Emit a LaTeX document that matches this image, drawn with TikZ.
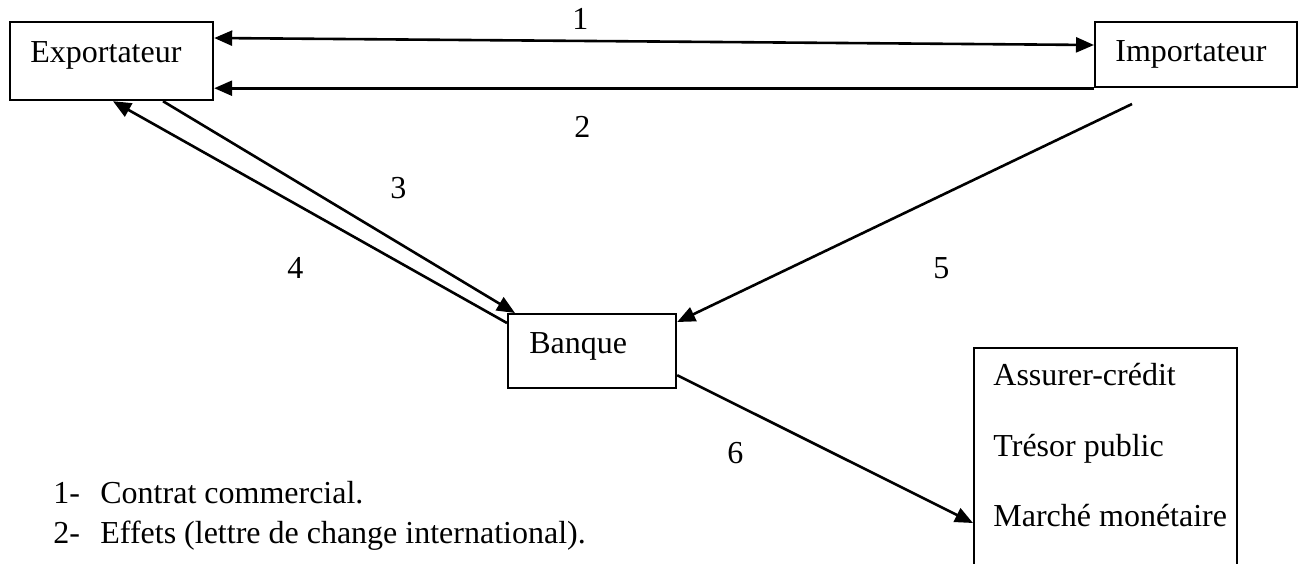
\documentclass[tikz,border=0pt]{standalone}
\usepackage{fontspec}
\setmainfont{Liberation Serif}
\usetikzlibrary{arrows.meta,calc}
\begin{document}
\begin{tikzpicture}[x=0.5pt,y=-0.5pt, font=\fontsize{16}{19}\selectfont,
  box/.style={draw, line width=1.1pt, inner sep=0pt, anchor=north west},
  lbl/.style={anchor=base west, inner sep=0pt},
  arr/.style={line width=1.3pt, -{Triangle[length=9pt,width=7.5pt]}},
  darr/.style={line width=1.3pt, {Triangle[length=9pt,width=7.5pt]}-{Triangle[length=9pt,width=7.5pt]}}]
\useasboundingbox (0,0) rectangle (1301,563);
\clip (0,0) rectangle (1301,563);
% boxes
\node[box, minimum width=101.5pt, minimum height=39pt] (exp) at (9,21) {};
\node[lbl] (expt) at (30,62) {Exportateur};
\node[box, minimum width=101pt, minimum height=32.5pt] (imp) at (1094,21) {};
\node[lbl] (impt) at (1115,61) {Importateur};
\node[box, minimum width=84pt, minimum height=37pt] (ban) at (507,313) {};
\node[lbl] (bant) at (529,353) {Banque};
\node[box, minimum width=131.5pt, minimum height=130pt] (ins) at (973,347) {};
\node[lbl] (ins1) at (993,385) {Assurer-crédit};
\node[lbl] (ins2) at (993,456) {Trésor public};
\node[lbl] (ins3) at (993,526) {Marché monétaire};
% connectors
\draw[darr] ($(exp.north east)+(0,17)$) -- ($(imp.north west)+(0,24)$);
\draw[arr] (imp.south west) -- ($(exp.south east)+(0,-13)$);
\draw[arr] ($(exp.south west)+(154,0)$) -- ($(ban.north west)+(8,0)$);
\draw[arr] ($(ban.north west)+(0,10)$) -- ($(exp.south west)+(104,0)$);
\coordinate (s5) at (1132,104);
\draw[arr] (s5) -- ($(ban.north east)+(0,9)$);
\draw[arr] ($(ban.south east)+(0,-14)$) -- ($(ins.north west)+(0,176)$);
% numbers
\node[lbl] (n1) at (572,29) {1};
\node[lbl] (n2) at (574,137) {2};
\node[lbl] (n3) at (390,198) {3};
\node[lbl] (n4) at (287,278) {4};
\node[lbl] (n5) at (933,278) {5};
\node[lbl] (n6) at (727,463) {6};
% legend
\node[lbl] (l1n) at (53,503) {1-};
\node[lbl] (l1) at (100,503) {Contrat commercial.};
\node[lbl] (l2n) at (53,543) {2-};
\node[lbl] (l2) at (100,543) {Effets (lettre de change international).};
\end{tikzpicture}
\end{document}
